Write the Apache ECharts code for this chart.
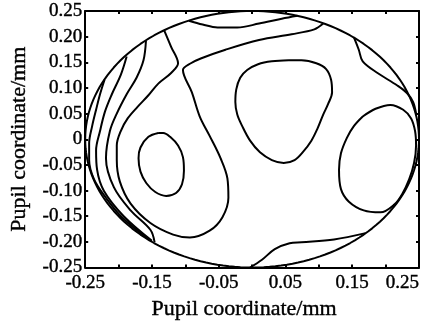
<!DOCTYPE html>
<html>
<head>
<meta charset="utf-8">
<script src="https://cdn.jsdelivr.net/npm/echarts@6/dist/echarts.min.js"></script>
<style>
html,body{margin:0;padding:0;background:#fff;}
#chart{width:427px;height:325px;}
</style>
</head>
<body>
<div id="chart"></div>
<script>
// ---- Data (pupil coordinates in mm) ----
const pupilRadius = 0.25;
const axisMin = -0.25, axisMax = 0.25, tickStep = 0.05;
const xTickLabels = ['-0.25', '-0.15', '-0.05', '0.05', '0.15', '0.25'];
const yTickLabels = ['0.25', '0.20', '0.15', '0.10', '0.05', '0', '-0.05', '-0.10', '-0.15', '-0.20', '-0.25'];
const axisTitle = 'Pupil coordinate/mm';

// contour near top edge
const contourTop = [[-0.0947,0.2311],[-0.074,0.2236],[-0.0518,0.2179],[-0.0222,0.2179],[0.0104,0.2255],[0.0444,0.2349],[0.068,0.2406]];
// saddle-shaped contour
const contourSaddle = [[-0.1317,0.2123],[-0.1213,0.1802],[-0.1109,0.1481],[-0.1213,0.1292],[-0.1405,0.1085],[-0.1553,0.0858],[-0.1716,0.0632],[-0.1864,0.0406],[-0.1967,0.016],[-0.2027,-0.0123],[-0.2027,-0.0406],[-0.1982,-0.0821],[-0.182,-0.1255],[-0.1524,-0.1632],[-0.1183,-0.1858],[-0.0932,-0.1915],[-0.0636,-0.1783],[-0.0444,-0.1519],[-0.0355,-0.1142],[-0.037,-0.0764],[-0.0473,-0.0368],[-0.0636,0.0066],[-0.0784,0.0443],[-0.0902,0.0915],[-0.1036,0.1349],[-0.0917,0.1481],[-0.0769,0.1575],[-0.0399,0.1745],[0.0104,0.1934],[0.0592,0.2047],[0.0932,0.2142],[0.1065,0.2255]];
// closed contour left
const contourLeftOval = [[-0.1405,0.0123],[-0.1553,0.0047],[-0.1672,-0.016],[-0.1701,-0.0368],[-0.1672,-0.0632],[-0.1583,-0.0858],[-0.145,-0.1028],[-0.1287,-0.1104],[-0.1139,-0.1047],[-0.105,-0.0877],[-0.1021,-0.0613],[-0.1036,-0.0349],[-0.1109,-0.0123],[-0.1228,0.0047],[-0.1331,0.0123],[-0.1405,0.0123]];
// closed contour centre
const contourCentreOval = [[0.0547,0.1538],[0.0296,0.1519],[0.0089,0.1462],[-0.0074,0.1349],[-0.0178,0.1198],[-0.0237,0.0972],[-0.0251,0.0726],[-0.0222,0.0481],[-0.0148,0.0255],[-0.003,-0.0028],[0.0118,-0.0255],[0.0296,-0.0406],[0.0473,-0.0462],[0.0636,-0.0406],[0.0769,-0.0236],[0.0888,-0.0028],[0.0976,0.0198],[0.1065,0.0481],[0.1139,0.0689],[0.1198,0.0915],[0.1183,0.116],[0.1109,0.1368],[0.0962,0.1481],[0.074,0.1538],[0.0547,0.1538]];
// closed contour right
const contourRightOval = [[0.1657,0.0443],[0.1849,0.0594],[0.2071,0.067],[0.2263,0.0575],[0.2382,0.0406],[0.2441,0.016],[0.2456,-0.0123],[0.2426,-0.0462],[0.2352,-0.0783],[0.2249,-0.1066],[0.213,-0.1274],[0.1923,-0.1425],[0.1672,-0.1387],[0.145,-0.1217],[0.1331,-0.0972],[0.1302,-0.0594],[0.1331,-0.0274],[0.142,0.0028],[0.1524,0.0255],[0.1657,0.0443]];
// contour top-right
const contourTopRight = [[0.1524,0.1991],[0.1598,0.1745],[0.1657,0.1519],[0.1879,0.1292],[0.2175,0.1047],[0.2322,0.0896],[0.2411,0.0726],[0.2456,0.05]];
// contour bottom
const contourBottom = [[0.17,-0.183],[0.1228,-0.1953],[0.074,-0.2009],[0.0562,-0.2028],[0.034,-0.2142],[0.0148,-0.2349],[-0.003,-0.25]];
// contours along left edge
const contourLeft1 = [[-0.221,0.116],[-0.2278,0.0877],[-0.2337,0.0575],[-0.2396,0.0255],[-0.2441,-0.0085],[-0.2441,-0.0406],[-0.2367,-0.0783],[-0.219,-0.114],[-0.195,-0.152],[-0.156,-0.194]];
const contourLeft2 = [[-0.1879,0.1613],[-0.1967,0.1255],[-0.2101,0.0877],[-0.2204,0.0538],[-0.2278,0.016],[-0.2337,-0.0217],[-0.2322,-0.0594],[-0.2219,-0.1009],[-0.1923,-0.15],[-0.15,-0.198]];
const contourLeft3 = [[-0.159,0.1915],[-0.1627,0.1538],[-0.1731,0.1198],[-0.1879,0.0877],[-0.2027,0.05],[-0.213,0.016],[-0.2189,-0.0368],[-0.2071,-0.0934],[-0.182,-0.1387],[-0.1524,-0.1764],[-0.146,-0.201]];

// pupil boundary: circle of radius pupilRadius
const pupilBoundary = [];
for (let i = 0; i <= 180; i++) {
  const a = i / 180 * 2 * Math.PI;
  pupilBoundary.push([pupilRadius * Math.cos(a), pupilRadius * Math.sin(a)]);
}

const contours = [contourTop, contourSaddle, contourLeftOval, contourCentreOval, contourRightOval,
  contourTopRight, contourBottom, contourLeft1, contourLeft2, contourLeft3];

function labelFor(list) {
  return function (v) {
    const k = Math.round(v * 100);
    for (const s of list) { if (Math.round(parseFloat(s) * 100) === k) return s; }
    return '';
  };
}

const font = 'Liberation Serif, Times New Roman, serif';
const lineCol = '#000';
const textBold = { textBorderColor: '#000', textBorderWidth: 0.4 };

const chart = echarts.init(document.getElementById('chart'), null, { renderer: 'canvas' });
const baseAxis = {
  type: 'value', min: axisMin, max: axisMax, interval: tickStep,
  axisLine: { show: true, onZero: false, lineStyle: { color: lineCol, width: 2 } },
  axisTick: { show: true, inside: true, length: 3, lineStyle: { color: lineCol, width: 2 } },
  splitLine: { show: false }
};
const series = [{
  type: 'line', data: pupilBoundary, showSymbol: false, symbol: 'none', silent: true,
  lineStyle: { color: lineCol, width: 2 }, animation: false
}];
contours.forEach(c => series.push({
  type: 'line', data: c, showSymbol: false, symbol: 'none', silent: true, smooth: 0.35,
  lineStyle: { color: lineCol, width: 2 }, animation: false
}));

chart.setOption({
  animation: false,
  backgroundColor: '#fff',
  grid: { left: 81, right: 8, top: 11, bottom: 49, containLabel: false },
  xAxis: [
    Object.assign({}, baseAxis, {
      position: 'bottom',
      name: axisTitle, nameLocation: 'middle', nameGap: 30,
      nameTextStyle: Object.assign({ fontFamily: font, fontSize: 22, color: lineCol, padding: [0, 16, 0, 0] }, textBold),
      axisLabel: Object.assign({ show: true, margin: 6, fontFamily: font, fontSize: 19, color: lineCol,
        formatter: labelFor(xTickLabels), alignMaxLabel: 'right', showMaxLabel: true, showMinLabel: true }, textBold)
    }),
    Object.assign({}, baseAxis, { position: 'top', axisLabel: { show: false } })
  ],
  yAxis: [
    Object.assign({}, baseAxis, {
      position: 'left',
      name: axisTitle, nameLocation: 'middle', nameGap: 55,
      nameTextStyle: Object.assign({ fontFamily: font, fontSize: 22, color: lineCol }, textBold),
      axisLabel: Object.assign({ show: true, margin: 3, fontFamily: font, fontSize: 19, color: lineCol,
        formatter: labelFor(yTickLabels), showMaxLabel: true, showMinLabel: true }, textBold)
    }),
    Object.assign({}, baseAxis, { position: 'right', axisLabel: { show: false } })
  ],
  series: series
});
</script>
</body>
</html>
